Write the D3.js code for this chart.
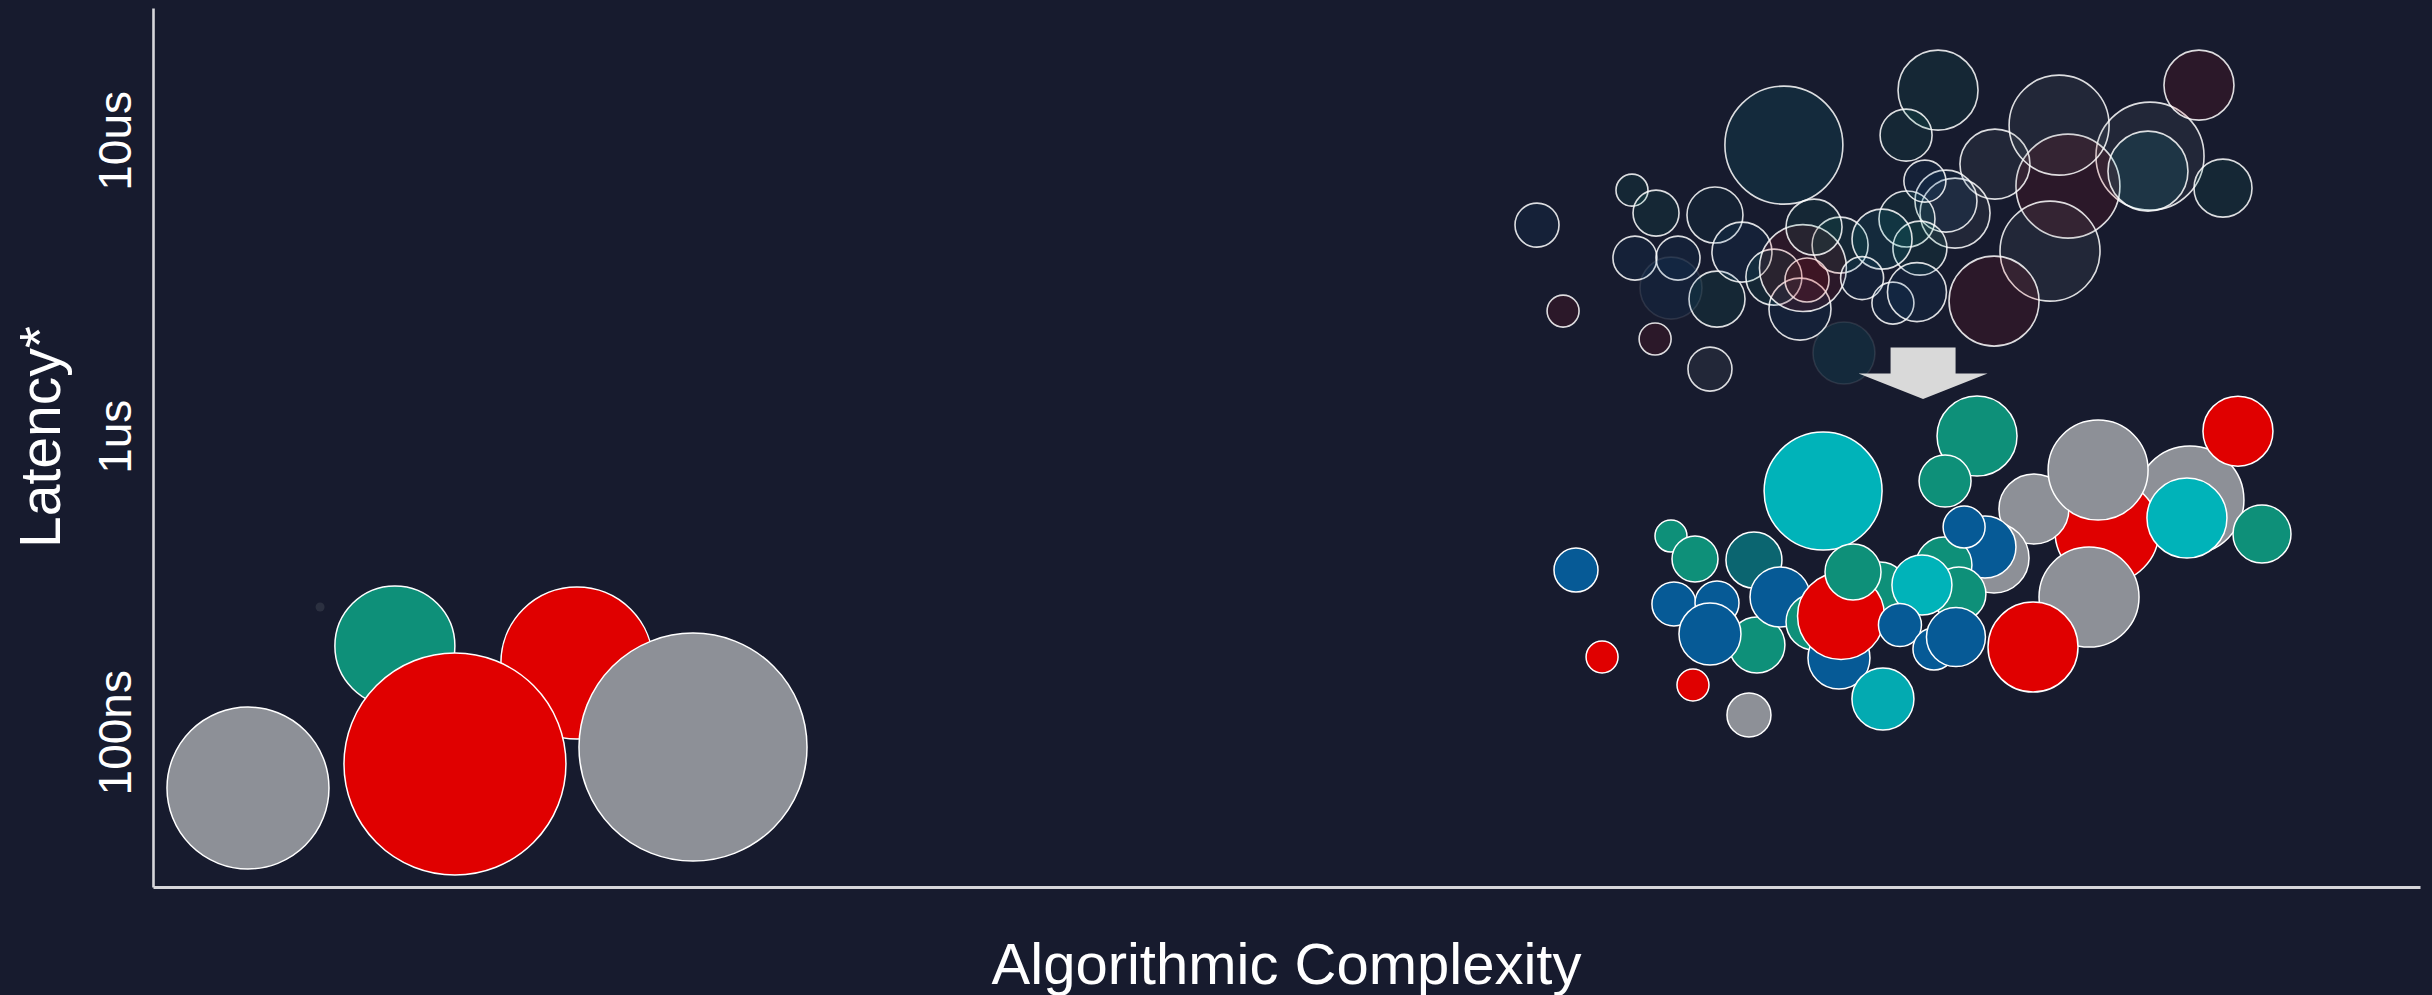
<!DOCTYPE html>
<html>
<head>
<meta charset="utf-8">
<script src="https://cdn.jsdelivr.net/npm/d3@7"></script>
<style>
  html, body { margin: 0; padding: 0; background: #171b2e; }
  svg { display: block; }
</style>
</head>
<body>
<svg id="chart" width="2432" height="995"></svg>
<script>
// ---- categories -------------------------------------------------------
const categories = ["gray", "red", "green", "blue", "cyan", "teal", "aqua"];
const categoryColors = ["#8d9097", "#e00000", "#0e9079", "#065a96", "#00b3b9", "#0b6570", "#03aab1"];

// ---- y axis ticks (latency in ns) ------------------------------------
const latencyTicks = [100, 1000, 10000];
const latencyTickLabels = ["100ns", "1us", "10us"];

// ---- low-complexity operations (single position) ----------------------
const baseCategory   = ["gray", "green", "red", "red", "gray"];
const baseComplexity = [4.19, 10.67, 18.70, 13.32, 23.82];
const baseLatency    = [64.8, 195.6, 171.4, 78.1, 89.1];
const baseSize       = [65.6, 36, 57.8, 123.2, 130];

// faint near-zero point
const ghostComplexity = [7.37];
const ghostLatency    = [265];

// ---- high-complexity operations: before and after ---------------------
// listed in drawing order (later entries are drawn on top)
const opCategory = ["gray", "red", "gray", "gray", "gray", "red", "cyan", "red", "green", "green",
                    "green", "teal", "blue", "blue", "green", "blue", "blue", "red", "red", "gray",
                    "blue", "green", "blue", "green", "red", "red", "cyan", "green", "gray", "blue",
                    "green", "green", "blue", "cyan", "blue", "blue", "blue", "aqua", "green", "green"];
const opSize = [29.2, 27.0, 12.25, 25, 25, 20.25, 16, 12.25, 8.41, 2.56,
                5.29, 7.84, 4.84, 4.84, 7.84, 9.61, 4.84, 2.56, 2.56, 4.84,
                9, 7.84, 9.61, 7.84, 4.84, 18.9, 34.8, 7.84, 12.25, 9.61,
                7.84, 7.29, 4.41, 9, 4.62, 4.41, 8.7, 9.61, 16, 6.76];
const complexityBefore = [88.09, 84.47, 81.25, 84.08, 83.68, 81.21, 88.00, 90.25, 91.31, 65.24,
                          66.30, 68.90, 65.37, 67.27, 68.99, 66.96, 61.05, 62.20, 66.26, 68.68,
                          70.09, 71.50, 72.65, 74.42, 72.96, 72.78, 71.94, 73.27, 79.49, 79.09,
                          77.37, 77.94, 78.16, 76.27, 75.39, 76.75, 77.81, 74.59, 78.74, 77.33];
const latencyBefore = [8844, 7003, 8312, 11256, 4224, 2863, 7870, 15366, 6894, 6787,
                       5678, 5591, 4001, 4001, 2908, 3168, 5171, 2649, 2131, 1687,
                       4192, 3451, 2690, 4426, 3372, 3701, 9636, 5091, 5678, 6233,
                       5420, 4324, 7281, 4637, 3424, 2819, 3071, 1911, 14779, 10414];
const complexityAfter = [89.85, 86.19, 82.97, 85.80, 85.40, 82.93, 89.72, 91.97, 93.03, 66.96,
                         68.02, 70.62, 67.09, 68.99, 70.75, 68.68, 62.77, 63.92, 67.93, 70.40,
                         71.77, 73.27, 74.37, 76.18, 74.68, 74.46, 73.67, 74.99, 81.21, 80.81,
                         79.00, 79.66, 79.89, 78.03, 77.06, 78.56, 79.53, 76.31, 80.46, 79.05];
const latencyAfter = [608.7, 478.5, 567.6, 768.9, 286.3, 194.0, 529.2, 1041, 467.4, 460.1,
                      384.8, 381.8, 271.2, 273.3, 197.1, 214.7, 353.2, 179.6, 144.4, 114.4,
                      286.3, 235.8, 178.1, 302.4, 228.5, 247.0, 652.9, 347.8, 387.8, 422.5,
                      367.2, 293.1, 493.6, 314.4, 230.3, 191.1, 209.7, 129.5, 1001.6, 705.9];
// "before" bubbles drawn without a visible outline
const fadedBefore = [15, 37];

// arrow from the old cluster to the new one
const arrowComplexity = 78.08;
const arrowFromLatency = 1995;
const arrowToLatency = 1336;

// ---- layout ------------------------------------------------------------
const width = 2432, height = 995;
const margin = { left: 153, right: 12, top: 8, bottom: 108 };

const svg = d3.select("#chart");
svg.append("rect").attr("width", width).attr("height", height).attr("fill", "#171b2e");

const x = d3.scaleLinear().domain([0, 100]).range([margin.left, width - margin.right]);
const y = d3.scaleLog().domain([30, 28000]).range([height - margin.bottom, margin.top]);
const r = d3.scaleSqrt().domain([0, 100]).range([0, 100]);
const color = d3.scaleOrdinal().domain(categories).range(categoryColors);

const font = "'Liberation Sans', Arial, Helvetica, sans-serif";

// ---- "before" cluster: translucent fills with outlines ----------------
const before = opCategory.map((c, i) => ({
  cat: c, cx: complexityBefore[i], lat: latencyBefore[i], size: opSize[i], faded: fadedBefore.includes(i)
}));
svg.append("g").selectAll("circle").data(before).join("circle")
  .attr("cx", d => x(d.cx))
  .attr("cy", d => y(d.lat))
  .attr("r", d => r(d.size))
  .attr("fill", d => color(d.cat))
  .attr("fill-opacity", 0.1)
  .attr("stroke", "#ffffff")
  .attr("stroke-opacity", d => d.faded ? 0.1 : 0.85)
  .attr("stroke-width", 1.6);

// ---- arrow --------------------------------------------------------------
const ax = x(arrowComplexity), ay0 = y(arrowFromLatency), ay1 = y(arrowToLatency);
const bodyHalf = 32.5, headHalf = 64.5, headLen = 25.5;
svg.append("polygon")
  .attr("points", [
    [ax - bodyHalf, ay0], [ax + bodyHalf, ay0], [ax + bodyHalf, ay1 - headLen],
    [ax + headHalf, ay1 - headLen], [ax, ay1], [ax - headHalf, ay1 - headLen],
    [ax - bodyHalf, ay1 - headLen]
  ].map(p => p.join(",")).join(" "))
  .attr("fill", "#d9d9d9");

// ---- "after" cluster ------------------------------------------------------
const after = opCategory.map((c, i) => ({
  cat: c, cx: complexityAfter[i], lat: latencyAfter[i], size: opSize[i]
}));
svg.append("g").selectAll("circle").data(after).join("circle")
  .attr("cx", d => x(d.cx))
  .attr("cy", d => y(d.lat))
  .attr("r", d => r(d.size))
  .attr("fill", d => color(d.cat))
  .attr("stroke", "#ffffff")
  .attr("stroke-width", 1.5);

// ---- low-complexity cluster -------------------------------------------
svg.append("g").selectAll("circle").data(ghostComplexity.map((c, i) => ({ cx: c, lat: ghostLatency[i] })))
  .join("circle")
  .attr("cx", d => x(d.cx))
  .attr("cy", d => y(d.lat))
  .attr("r", 4.5)
  .attr("fill", color("gray"))
  .attr("fill-opacity", 0.18);

const base = baseCategory.map((c, i) => ({ cat: c, cx: baseComplexity[i], lat: baseLatency[i], size: baseSize[i] }));
svg.append("g").selectAll("circle").data(base).join("circle")
  .attr("cx", d => x(d.cx))
  .attr("cy", d => y(d.lat))
  .attr("r", d => r(d.size))
  .attr("fill", d => color(d.cat))
  .attr("stroke", "#ffffff")
  .attr("stroke-width", 1.5);

// ---- axes ----------------------------------------------------------------
const axisColor = "#d6d6da";

const yAxis = svg.append("g")
  .attr("transform", `translate(${margin.left},0)`)
  .call(d3.axisLeft(y).tickValues(latencyTicks)
    .tickFormat((d, i) => latencyTickLabels[i]).tickSize(0).tickSizeOuter(0));
yAxis.select(".domain").attr("stroke", axisColor).attr("stroke-width", 2.6);
yAxis.selectAll(".tick text")
  .attr("transform", "rotate(-90)")
  .attr("x", 0).attr("y", -22).attr("dy", 0)
  .attr("text-anchor", "middle")
  .attr("fill", "#ffffff")
  .style("font-family", font)
  .style("font-size", "46px");

const xAxis = svg.append("g")
  .attr("transform", `translate(0,${height - margin.bottom})`)
  .call(d3.axisBottom(x).tickValues([]).tickSizeOuter(0));
xAxis.select(".domain").attr("stroke", axisColor).attr("stroke-width", 2.8);

// ---- axis titles --------------------------------------------------------
svg.append("text")
  .attr("x", (margin.left + width - margin.right) / 2)
  .attr("y", 984)
  .attr("text-anchor", "middle")
  .attr("fill", "#ffffff")
  .style("font-family", font)
  .style("font-size", "58px")
  .text("Algorithmic Complexity");

svg.append("text")
  .attr("transform", "translate(60,437) rotate(-90)")
  .attr("text-anchor", "middle")
  .attr("fill", "#ffffff")
  .style("font-family", font)
  .style("font-size", "57px")
  .text("Latency*");
</script>
</body>
</html>
